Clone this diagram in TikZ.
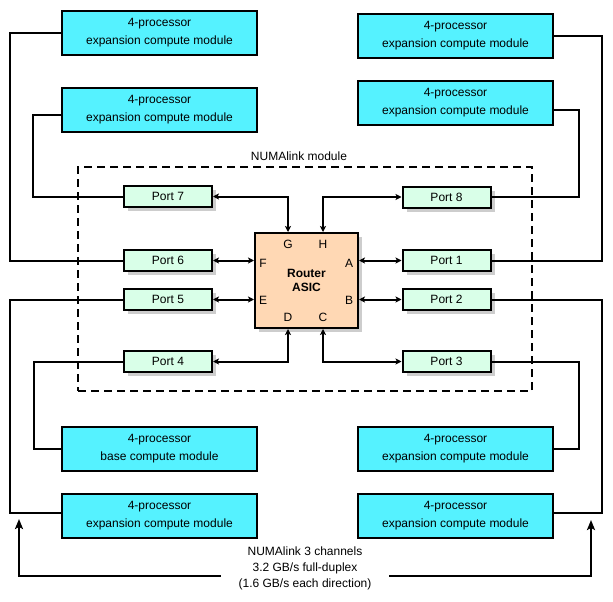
\documentclass[tikz,border=0pt]{standalone}
\usepackage{fontspec}
\setmainfont{Liberation Sans}
\usetikzlibrary{arrows.meta,shadows}
\definecolor{modcyan}{RGB}{85,242,255}
\definecolor{portgreen}{RGB}{217,255,232}
\definecolor{asicpeach}{RGB}{255,216,180}
\definecolor{shadegray}{RGB}{205,205,205}
\begin{document}
\begin{tikzpicture}[x=1pt,y=-1pt,line width=2pt,
  font=\fontsize{12}{18}\selectfont,
  module/.style={draw,fill=modcyan,minimum width=195pt,minimum height=44pt,inner sep=0pt,align=center},
  port/.style={draw,fill=portgreen,minimum width=88pt,minimum height=21pt,inner sep=0pt,
    drop shadow={shadow xshift=4pt,shadow yshift=-4pt,fill=shadegray,draw=none,opacity=1}},
  asic/.style={draw,fill=asicpeach,minimum width=103pt,minimum height=95pt,inner sep=0pt,align=center,
    font=\fontsize{12}{14}\selectfont\bfseries,
    drop shadow={shadow xshift=4pt,shadow yshift=-4pt,fill=shadegray,draw=none,opacity=1}},
  numabox/.style={draw,dash pattern=on 8pt off 5pt,minimum width=454pt,minimum height=224pt,inner sep=0pt},
  link/.style={draw},
  dlink/.style={{Stealth[length=6pt,width=6pt,inset=1.5pt]}-{Stealth[length=6pt,width=6pt,inset=1.5pt]}},
  bigarrow/.style={-{Stealth[length=10pt,width=8pt,inset=2pt]}}]

\useasboundingbox (0,0) rectangle (613,602);

\node[numabox] (numa) at (305,279) {};

\node (numalbl) at (299,156) {NUMAlink module};

\node[module] (m1) at (159.5,33) {4-processor\\expansion compute module};

\node[module] (m2) at (159.5,109.5) {4-processor\\expansion compute module};

\node[module] (m3) at (159.5,448.5) {4-processor\\base compute module};

\node[module] (m4) at (159.5,515.5) {4-processor\\expansion compute module};

\node[module] (r1) at (455.5,36) {4-processor\\expansion compute module};

\node[module] (r2) at (455.5,103) {4-processor\\expansion compute module};

\node[module] (r3) at (455.5,448.5) {4-processor\\expansion compute module};

\node[module] (r4) at (455.5,515.5) {4-processor\\expansion compute module};

\node[port] (p7) at (168,196.5) {Port 7};

\node[port] (p6) at (168,260.5) {Port 6};

\node[port] (p5) at (168,299.5) {Port 5};

\node[port] (p4) at (168,361.5) {Port 4};

\node[port] (p8) at (446.5,197) {Port 8};

\node[port] (p1) at (446.5,260.5) {Port 1};

\node[port] (p2) at (446.5,299.5) {Port 2};

\node[port] (p3) at (446.5,361.5) {Port 3};

\node[asic] (router) at (306.5,280.5) {Router\\ASIC};

\node (lg) at (288,244) {G};

\node (lh) at (323,244) {H};

\node (lf) at (263,263) {F};

\node (la) at (349,263) {A};

\node (le) at (263,300) {E};

\node (lb) at (349,300) {B};

\node (ld) at (288,317) {D};

\node (lc) at (323,317) {C};

\draw[dlink] (p7.east) -| (lg |- router.north);

\draw[dlink] (p8.west) -| (lh |- router.north);

\draw[dlink] (p6.east) -- (p6.east -| router.west);

\draw[dlink] (p5.east) -- (p5.east -| router.west);

\draw[dlink] (p1.west) -- (p1.west -| router.east);

\draw[dlink] (p2.west) -- (p2.west -| router.east);

\draw[dlink] (p4.east) -| (ld |- router.south);

\draw[dlink] (p3.west) -| (lc |- router.south);

\draw[link] (p6.west) -| ([xshift=-51pt]m1.west) -- (m1.west);

\draw[link] (p7.west) -| ([xshift=-28pt,yshift=-5.5pt]m2.west) -- ([yshift=-5.5pt]m2.west);

\draw[link] (p5.west) -| ([xshift=-51pt,yshift=2.5pt]m4.west) -- ([yshift=2.5pt]m4.west);

\draw[link] (p4.west) -| ([xshift=-27pt]m3.west) -- (m3.west);

\draw[link] (p1.east) -| ([xshift=48pt]r1.east) -- (r1.east);

\draw[link] (p8.east) -| ([xshift=25pt,yshift=-7pt]r2.east) -- ([yshift=-7pt]r2.east);

\draw[link] (p2.east) -| ([xshift=48pt,yshift=2.5pt]r4.east) -- ([yshift=2.5pt]r4.east);

\draw[link] (p3.east) -| ([xshift=25pt]r3.east) -- (r3.east);

\node[align=center,inner xsep=17pt,font=\fontsize{12}{16}\selectfont] (bw) at (305,568) {NUMAlink 3 channels\\3.2 GB/s full-duplex\\(1.6 GB/s each direction)};

\coordinate (tl) at (19,519);

\coordinate (tr) at (591,520);

\draw[bigarrow] ([yshift=-8pt]bw.west) -| (tl);

\draw[bigarrow] ([yshift=-8pt]bw.east) -| (tr);

\end{tikzpicture}
\end{document}
